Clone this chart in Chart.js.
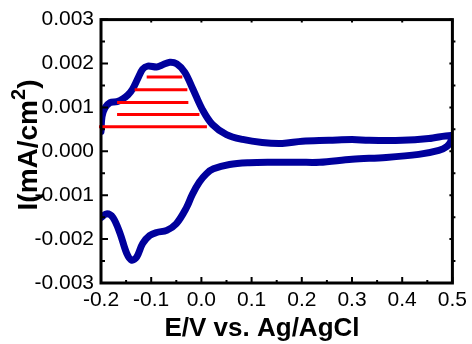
<!DOCTYPE html>
<html>
<head>
<meta charset="utf-8">
<script src="https://cdn.jsdelivr.net/npm/chart.js@4/dist/chart.umd.min.js"></script>
<style>
  html, body { margin: 0; padding: 0; background: #fff; }
  #wrap { width: 472px; height: 344px; }
</style>
</head>
<body>
<div id="wrap"><canvas id="cvChart" width="472" height="344"></canvas></div>
<script>
/* ================================
   Data
================================ */
// forward sweep, -0.2 -> 0.5 V
const anodicE = [-0.2, -0.198, -0.192, -0.182, -0.168, -0.156, -0.146, -0.137, -0.127, -0.117,
  -0.107, -0.089, -0.079, -0.063, -0.049, -0.033, -0.017, 0.002, 0.022, 0.05,
  0.082, 0.121, 0.161, 0.201, 0.254, 0.3, 0.334, 0.4, 0.453, 0.5];
const anodicI = [0.00045, 0.00079, 0.00099, 0.00111, 0.00113, 0.0012, 0.00129, 0.00142, 0.00165, 0.00187,
  0.00194, 0.00192, 0.00196, 0.00203, 0.00199, 0.0018, 0.00142, 0.00095, 0.00061, 0.00038,
  0.00027, 0.0002, 0.00018, 0.00023, 0.00025, 0.00027, 0.00025, 0.00025, 0.00029, 0.00036];

// reverse sweep, 0.5 -> -0.2 V
const cathodicE = [0.497, 0.489, 0.473, 0.433, 0.368, 0.3, 0.235, 0.195, 0.141, 0.095,
  0.056, 0.024, 0.01, -0.004, -0.018, -0.03, -0.05, -0.069, -0.089, -0.103,
  -0.117, -0.129, -0.139, -0.149, -0.162, -0.176, -0.188, -0.2];
const cathodicI = [0.00023, 0.00011, 0.00002, -0.00007, -0.00014, -0.00018, -0.00025, -0.00025, -0.00025, -0.00026,
  -0.0003, -0.0004, -0.00051, -0.0007, -0.00098, -0.00129, -0.00165, -0.0018, -0.00185, -0.00192,
  -0.0021, -0.00241, -0.00248, -0.00232, -0.00187, -0.00151, -0.00142, -0.00151];

// red hatching under the anodic peak
const hatchI = [0.00169, 0.0014, 0.00111, 0.00084, 0.00056];
const hatchStart = [-0.109, -0.133, -0.168, -0.168, -0.204];
const hatchEnd = [-0.038, -0.028, -0.026, -0.004, 0.011];

const xTicks = [-0.2, -0.1, 0.0, 0.1, 0.2, 0.3, 0.4, 0.5];
const yTicks = [-0.003, -0.002, -0.001, 0.0, 0.001, 0.002, 0.003];

const xTitle = "E/V vs. Ag/AgCl";
const yTitle = ["I(mA/cm", "2", ")"];

/* ================================
   Helpers
================================ */
const BLUE = "#00009c";
const RED = "#ff0000";
const FONT = '"Liberation Sans", Arial, sans-serif';

function toPoints(xs, ys) {
  return xs.map((v, i) => ({ x: v, y: ys[i] }));
}

function fmt(v, d) {
  if (Math.abs(v) < 1e-9) v = 0;
  return v.toFixed(d);
}

function midpoints(arr) {
  const out = [];
  for (let i = 0; i < arr.length - 1; i++) out.push((arr[i] + arr[i + 1]) / 2);
  return out;
}

/* ================================
   Plugins: inward ticks, frame, titles
================================ */
const frameTicks = {
  id: "frameTicks",
  afterDatasetsDraw(chart) {
    const { ctx, chartArea: a, scales: { x, y } } = chart;
    ctx.save();
    ctx.strokeStyle = "#000";
    ctx.lineWidth = 2;
    ctx.beginPath();
    xTicks.forEach(v => {
      const px = x.getPixelForValue(v);
      ctx.moveTo(px, a.bottom); ctx.lineTo(px, a.bottom - 6);
      ctx.moveTo(px, a.top); ctx.lineTo(px, a.top + 3);
    });
    midpoints(xTicks).forEach(v => {
      const px = x.getPixelForValue(v);
      ctx.moveTo(px, a.bottom); ctx.lineTo(px, a.bottom - 3);
    });
    yTicks.forEach(v => {
      const py = y.getPixelForValue(v);
      ctx.moveTo(a.left, py); ctx.lineTo(a.left + 7, py);
      ctx.moveTo(a.right, py); ctx.lineTo(a.right - 3, py);
    });
    midpoints(yTicks).forEach(v => {
      const py = y.getPixelForValue(v);
      ctx.moveTo(a.left, py); ctx.lineTo(a.left + 4, py);
      ctx.moveTo(a.right, py); ctx.lineTo(a.right + 3, py);
    });
    ctx.stroke();
    ctx.lineWidth = 3;
    ctx.strokeRect(a.left, a.top, a.right - a.left, a.bottom - a.top);
    ctx.restore();
  }
};

const axisTitles = {
  id: "axisTitles",
  afterDraw(chart) {
    const { ctx } = chart;
    ctx.save();
    ctx.fillStyle = "#000";
    ctx.textBaseline = "alphabetic";
    ctx.font = "bold 26px " + FONT;
    ctx.textAlign = "center";
    ctx.fillText(xTitle, 262, 336);

    // y title, rotated, with a raised "2"
    const big = "bold 28px " + FONT;
    const small = "bold 20px " + FONT;
    ctx.font = big;
    const w0 = ctx.measureText(yTitle[0]).width;
    const w2 = ctx.measureText(yTitle[2]).width;
    ctx.font = small;
    const w1 = ctx.measureText(yTitle[1]).width;
    const total = w0 + w1 + w2;
    ctx.translate(37, 145);
    ctx.rotate(-Math.PI / 2);
    ctx.textAlign = "left";
    let cx = -total / 2;
    ctx.font = big;
    ctx.fillText(yTitle[0], cx, 0);
    cx += w0;
    ctx.font = small;
    ctx.fillText(yTitle[1], cx, -12);
    cx += w1;
    ctx.font = big;
    ctx.fillText(yTitle[2], cx, 0);
    ctx.restore();
  }
};

/* ================================
   Chart
================================ */
const hatchSets = hatchI.map((v, i) => ({
  data: [{ x: hatchStart[i], y: v }, { x: hatchEnd[i], y: v }],
  borderColor: RED,
  borderWidth: 3,
  pointRadius: 0,
  showLine: true,
  clip: false,
  order: 0
}));

new Chart(document.getElementById("cvChart"), {
  type: "scatter",
  data: {
    datasets: [
      {
        data: toPoints(anodicE, anodicI).concat(toPoints(cathodicE, cathodicI)),
        borderColor: BLUE,
        borderWidth: 7,
        pointRadius: 0,
        showLine: true,
        tension: 0.35,
        borderCapStyle: "round",
        borderJoinStyle: "round",
        order: 2
      },
      {
        // thin joining segment at the switching potential
        data: [
          { x: cathodicE[cathodicE.length - 1], y: cathodicI[cathodicI.length - 1] },
          { x: anodicE[0], y: anodicI[0] }
        ],
        borderColor: BLUE,
        borderWidth: 1.5,
        borderDash: [3, 4],
        pointRadius: 0,
        showLine: true,
        order: 1
      },
      ...hatchSets
    ]
  },
  options: {
    responsive: false,
    animation: false,
    layout: { padding: { left: 0, right: 18, top: 17, bottom: 0 } },
    plugins: { legend: { display: false }, tooltip: { enabled: false } },
    scales: {
      x: {
        type: "linear",
        min: -0.2,
        max: 0.5,
        afterBuildTicks: s => { s.ticks = xTicks.map(v => ({ value: v })); },
        afterFit: s => { s.height = 61; },
        grid: { display: false, drawTicks: false },
        border: { display: false },
        ticks: {
          padding: 5,
          color: "#000",
          font: { family: FONT, size: 21 },
          maxRotation: 0,
          callback: v => fmt(v, 1)
        }
      },
      y: {
        type: "linear",
        min: -0.003,
        max: 0.003,
        afterBuildTicks: s => { s.ticks = yTicks.map(v => ({ value: v })); },
        afterFit: s => { s.width = 101; },
        grid: { display: false, drawTicks: false },
        border: { display: false },
        ticks: {
          padding: 7,
          color: "#000",
          font: { family: FONT, size: 21 },
          callback: v => fmt(v, 3)
        }
      }
    }
  },
  plugins: [frameTicks, axisTitles]
});
</script>
</body>
</html>
